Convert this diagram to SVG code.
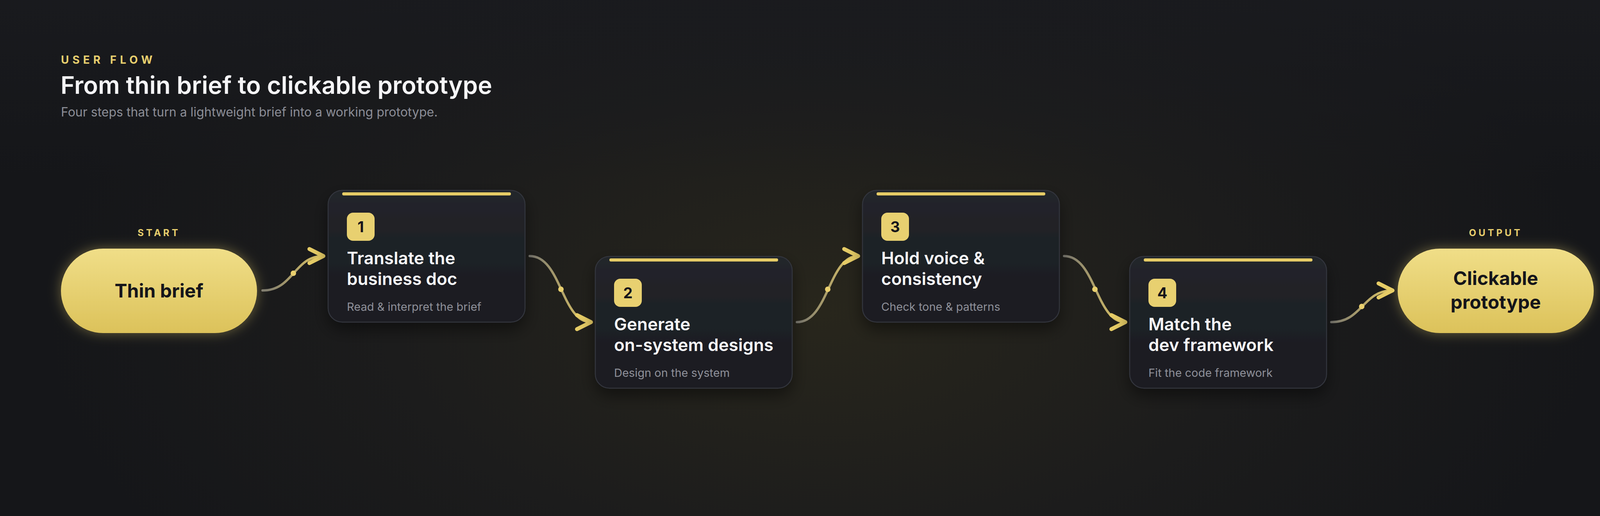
<svg xmlns="http://www.w3.org/2000/svg" width="4200" height="1320" viewBox="0 0 4200 1320">
<defs>
<radialGradient id="bgGlow" cx="2100" cy="800" r="2000" gradientUnits="userSpaceOnUse" gradientTransform="translate(2100 800) scale(1 0.55) translate(-2100 -800)">
<stop offset="0" stop-color="#28261c"/>
<stop offset="0.55" stop-color="#1c1c1c"/>
<stop offset="1" stop-color="#151619"/>
</radialGradient>
<linearGradient id="bgTop" x1="0" y1="0" x2="0" y2="1">
<stop offset="0" stop-color="#1a1b1f" stop-opacity="0.8"/>
<stop offset="0.35" stop-color="#1a1b1f" stop-opacity="0"/>
</linearGradient>
<linearGradient id="pillFill" x1="0" y1="0" x2="0" y2="1">
<stop offset="0" stop-color="#F0DE88"/>
<stop offset="1" stop-color="#DCC25A"/>
</linearGradient>
<linearGradient id="cardFill" x1="0" y1="0" x2="0" y2="1">
<stop offset="0" stop-color="#24262b"/>
<stop offset="0.3" stop-color="#202027"/>
<stop offset="0.55" stop-color="#1c2025"/>
<stop offset="1" stop-color="#1b1b21"/>
</linearGradient>
<filter id="glow" x="-30%" y="-40%" width="160%" height="180%">
<feDropShadow dx="0" dy="0" stdDeviation="16" flood-color="#E8CF6E" flood-opacity="0.4"/>
</filter>
<filter id="shadow" x="-20%" y="-20%" width="140%" height="150%">
<feDropShadow dx="0" dy="18" stdDeviation="20" flood-color="#000" flood-opacity="0.45"/>
</filter>
<marker id="arr" markerUnits="userSpaceOnUse" markerWidth="80" markerHeight="80" viewBox="-50 -40 80 80" refX="0" refY="0" orient="auto" overflow="visible">
<path d="M-36,-18 L0,0 L-36,18" fill="none" stroke="#E6CC66" stroke-width="10" stroke-linecap="round" stroke-linejoin="round"/>
</marker>
<linearGradient id="c1" gradientUnits="userSpaceOnUse" x1="672" y1="0" x2="830" y2="0"><stop offset="0" stop-color="#7a7870"/><stop offset="1" stop-color="#E3C964"/></linearGradient>
<linearGradient id="c2" gradientUnits="userSpaceOnUse" x1="1356" y1="0" x2="1514" y2="0"><stop offset="0" stop-color="#7a7870"/><stop offset="1" stop-color="#E3C964"/></linearGradient>
<linearGradient id="c3" gradientUnits="userSpaceOnUse" x1="2040" y1="0" x2="2198" y2="0"><stop offset="0" stop-color="#7a7870"/><stop offset="1" stop-color="#E3C964"/></linearGradient>
<linearGradient id="c4" gradientUnits="userSpaceOnUse" x1="2724" y1="0" x2="2882" y2="0"><stop offset="0" stop-color="#7a7870"/><stop offset="1" stop-color="#E3C964"/></linearGradient>
<linearGradient id="c5" gradientUnits="userSpaceOnUse" x1="3408" y1="0" x2="3566" y2="0"><stop offset="0" stop-color="#7a7870"/><stop offset="1" stop-color="#E3C964"/></linearGradient>
</defs>
<style>
.eyebrow{font-family:Inter,"Liberation Sans",sans-serif;font-weight:700;fill:#E8CF6E}
.title{font-family:Inter,"Liberation Sans",sans-serif;font-weight:600;font-size:62px;fill:#F5F5F7}
.subtitle{font-family:Inter,"Liberation Sans",sans-serif;font-size:32px;fill:#8B8D96}
.tag{font-family:Inter,"Liberation Sans",sans-serif;font-weight:700;font-size:24px;letter-spacing:6px;fill:#E8CF6E;text-anchor:middle}
.pill{fill:url(#pillFill);filter:url(#glow)}
.pilltext{font-family:Inter,"Liberation Sans",sans-serif;font-weight:700;font-size:48px;fill:#15151a;text-anchor:middle}
.card{fill:url(#cardFill);stroke:#33353d;stroke-width:2.5;filter:url(#shadow)}
.bar{fill:#E6CC66}
.badge{fill:#E8D070}
.num{font-family:Inter,"Liberation Sans",sans-serif;font-weight:700;font-size:38px;fill:#15151a;text-anchor:middle}
.ctitle{font-family:Inter,"Liberation Sans",sans-serif;font-weight:600;font-size:44px;fill:#F7F7F9}
.csub{font-family:Inter,"Liberation Sans",sans-serif;font-size:29px;fill:#8E9099}
.conn{fill:none;stroke-width:6;stroke-linecap:round;marker-end:url(#arr)}
.dot{fill:#E8CF6E}
</style>
<rect width="4200" height="1320" fill="url(#bgGlow)"/>
<rect width="4200" height="1320" fill="url(#bgTop)"/>

<g id="header">
<text class="eyebrow" x="156" y="163" font-size="28" letter-spacing="9">USER FLOW</text>
<text class="title" x="155" y="240">From thin brief to clickable prototype</text>
<text class="subtitle" x="156" y="298">Four steps that turn a lightweight brief into a working prototype.</text>
</g>

<g id="connectors">
<path class="conn" stroke="url(#c1)" d="M672,743 C752,743 752,655 828,655"/>
<circle class="dot" cx="751" cy="699" r="7"/>
<path class="conn" stroke="url(#c2)" d="M1356,655 C1437,655 1437,824 1513,824"/>
<circle class="dot" cx="1436" cy="740" r="7"/>
<path class="conn" stroke="url(#c3)" d="M2040,824 C2121,824 2121,655 2197,655"/>
<circle class="dot" cx="2119" cy="740" r="7"/>
<path class="conn" stroke="url(#c4)" d="M2724,655 C2805,655 2805,824 2881,824"/>
<circle class="dot" cx="2803" cy="740" r="7"/>
<path class="conn" stroke="url(#c5)" d="M3408,824 C3488,824 3488,743 3565,743"/>
<circle class="dot" cx="3486" cy="784" r="7"/>
</g>

<g id="start">
<text class="tag" x="407" y="604">START</text>
<rect class="pill" x="156" y="636" width="502" height="216" rx="108"/>
<text class="pilltext" x="407" y="761">Thin brief</text>
</g>

<g id="step1">
<rect class="card" x="840" y="487" width="504" height="337" rx="36"/>
<rect class="bar" x="876" y="492" width="432" height="8" rx="4"/>
<rect class="badge" x="888" y="544" width="71" height="72" rx="16"/>
<text class="num" x="923.5" y="594">1</text>
<text class="ctitle" x="888" y="676">Translate the</text>
<text class="ctitle" x="888" y="729">business doc</text>
<text class="csub" x="888" y="795">Read &amp; interpret the brief</text>
</g>

<g id="step2">
<rect class="card" x="1524" y="656" width="504" height="337" rx="36"/>
<rect class="bar" x="1560" y="661" width="432" height="8" rx="4"/>
<rect class="badge" x="1572" y="713" width="71" height="72" rx="16"/>
<text class="num" x="1607.5" y="763">2</text>
<text class="ctitle" x="1572" y="845">Generate</text>
<text class="ctitle" x="1572" y="898">on-system designs</text>
<text class="csub" x="1572" y="964">Design on the system</text>
</g>

<g id="step3">
<rect class="card" x="2208" y="487" width="504" height="337" rx="36"/>
<rect class="bar" x="2244" y="492" width="432" height="8" rx="4"/>
<rect class="badge" x="2256" y="544" width="71" height="72" rx="16"/>
<text class="num" x="2291.5" y="594">3</text>
<text class="ctitle" x="2256" y="676">Hold voice &amp;</text>
<text class="ctitle" x="2256" y="729">consistency</text>
<text class="csub" x="2256" y="795">Check tone &amp; patterns</text>
</g>

<g id="step4">
<rect class="card" x="2892" y="656" width="504" height="337" rx="36"/>
<rect class="bar" x="2928" y="661" width="432" height="8" rx="4"/>
<rect class="badge" x="2940" y="713" width="71" height="72" rx="16"/>
<text class="num" x="2975.5" y="763">4</text>
<text class="ctitle" x="2940" y="845">Match the</text>
<text class="ctitle" x="2940" y="898">dev framework</text>
<text class="csub" x="2940" y="964">Fit the code framework</text>
</g>

<g id="output">
<text class="tag" x="3829" y="604">OUTPUT</text>
<rect class="pill" x="3578" y="636" width="502" height="216" rx="108"/>
<text class="pilltext" x="3829" y="729">Clickable</text>
<text class="pilltext" x="3829" y="790">prototype</text>
</g>
</svg>
